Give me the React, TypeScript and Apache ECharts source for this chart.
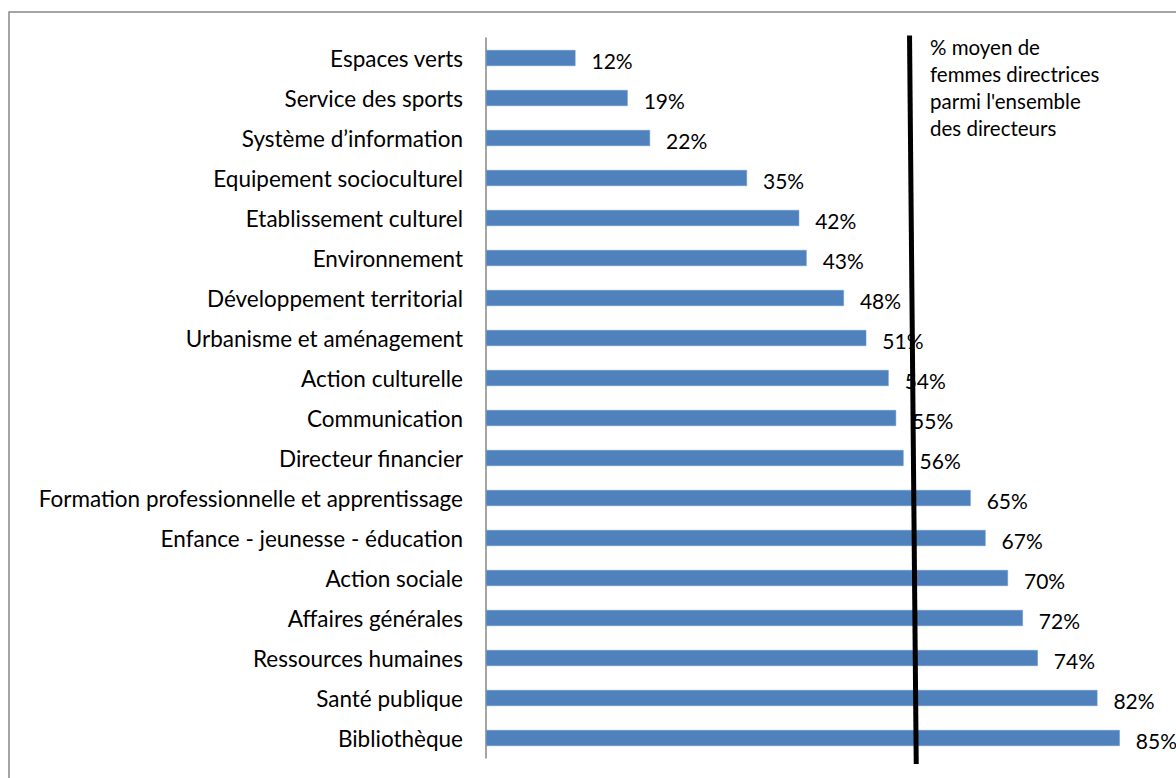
import React, { useEffect, useRef } from "react";
import * as echarts from "echarts";

const categories = [
  "Espaces verts",
  "Service des sports",
  "Système d’information",
  "Equipement socioculturel",
  "Etablissement culturel",
  "Environnement",
  "Développement territorial",
  "Urbanisme et aménagement",
  "Action culturelle",
  "Communication",
  "Directeur financier",
  "Formation professionnelle et apprentissage",
  "Enfance - jeunesse - éducation",
  "Action sociale",
  "Affaires générales",
  "Ressources humaines",
  "Santé publique",
  "Bibliothèque",
];

const shareWomen = [12, 19, 22, 35, 42, 43, 48, 51, 54, 55, 56, 65, 67, 70, 72, 74, 82, 85];

// average line: [value %, position along category rank]
const averageLine = [
  [56.8, -0.56],
  [57.7, 17.65],
];

const annotationText = "% moyen de\nfemmes directrices\nparmi l'ensemble\ndes directeurs";

const FONT = "Lato, 'Noto Sans', sans-serif";

export default function App() {
  const ref = useRef<HTMLDivElement>(null);

  useEffect(() => {
    if (!ref.current) return;
    const chart = echarts.init(ref.current, null, { renderer: "svg" });
    chart.setOption({
      animation: false,
      backgroundColor: "#ffffff",
      textStyle: { fontFamily: FONT },
      grid: { left: 486, top: 38, width: 686, height: 720 },
      xAxis: {
        type: "value",
        min: 0,
        max: 92,
        show: false,
      },
      yAxis: [
        {
          type: "category",
          data: categories,
          inverse: true,
          axisLine: { show: true, lineStyle: { color: "#868686", width: 1.5 } },
          axisTick: { show: false },
          splitLine: { show: false },
          axisLabel: {
            color: "#000",
            fontSize: 22.5,
            fontFamily: FONT,
            margin: 23,
            padding: [3, 0, 0, 0],
          },
        },
        {
          type: "value",
          min: -0.5,
          max: 17.5,
          inverse: true,
          show: false,
        },
      ],
      graphic: [
        {
          type: "rect",
          shape: { x: 9, y: 12, width: 1300, height: 900 },
          style: { fill: "none", stroke: "#888888", lineWidth: 1.5 },
          silent: true,
          z: 0,
        },
        {
          type: "text",
          left: 930,
          top: 33,
          style: {
            text: annotationText,
            fontFamily: FONT,
            fontSize: 20.5,
            lineHeight: 27,
            fill: "#000",
          },
          z: 10,
        },
      ],
      series: [
        {
          type: "bar",
          data: shareWomen,
          barWidth: 16,
          itemStyle: { color: "#4F81BD", borderColor: "#6A96CC", borderWidth: 0.5 },
          label: {
            show: true,
            position: "right",
            distance: 16,
            offset: [0, 2],
            color: "#000",
            fontSize: 21,
            fontFamily: FONT,
            formatter: (p: any) => `${p.value}%`,
          },
          z: 2,
        },
        {
          type: "line",
          yAxisIndex: 1,
          data: averageLine,
          symbol: "none",
          clip: false,
          lineStyle: { color: "#000", width: 5 },
          z: 5,
        },
      ],
    });
    return () => chart.dispose();
  }, []);

  return (
    <div
      ref={ref}
      style={{ position: "fixed", left: 0, top: 0, width: 1176, height: 778 }}
    />
  );
}
